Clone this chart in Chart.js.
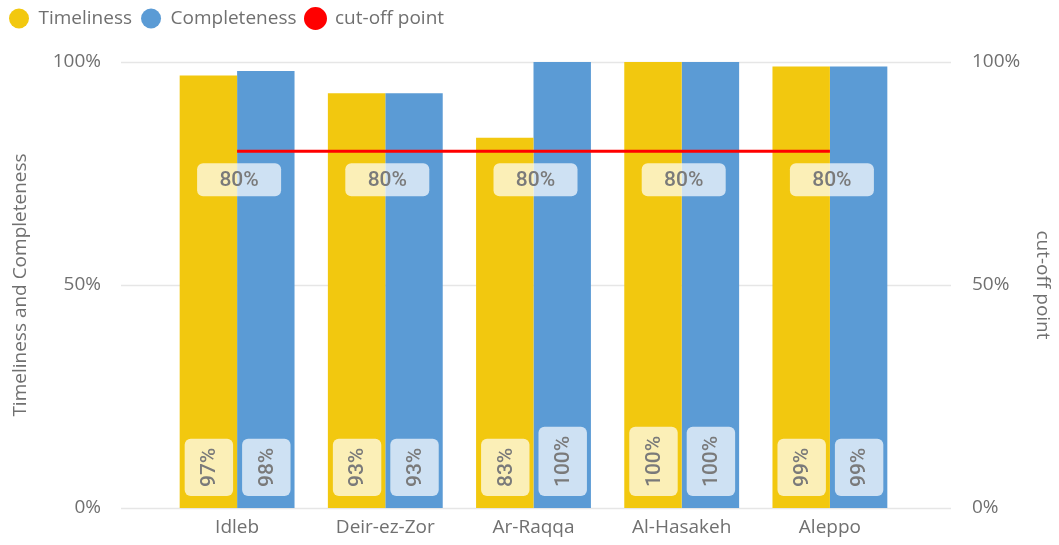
<!DOCTYPE html>
<html>
<head>
<meta charset="utf-8">
<script src="https://cdn.jsdelivr.net/npm/chart.js@4/dist/chart.umd.min.js"></script>
<style>
  html, body { margin: 0; padding: 0; background: #fff; overflow: hidden; }
  canvas { display: block; }
</style>
</head>
<body>
<canvas id="chart" width="1059" height="545"></canvas>
<script>
// ======= DATA =======
const regions = ["Idleb", "Deir-ez-Zor", "Ar-Raqqa", "Al-Hasakeh", "Aleppo"];
const timeliness = [97, 93, 83, 100, 99];
const completeness = [98, 93, 100, 100, 99];
const cutoff = [80, 80, 80, 80, 80];
const yTicks = [0, 50, 100];

const FONT = "'Open Sans', 'Noto Sans', sans-serif";
const LABEL_FONT = "Roboto, sans-serif";
const GREY = "#707070";
const LABEL_GREY = "#7a7a7a";

// horizontal gridlines, a bit wider than the plot area
const gridLines = {
  id: "gridLines",
  beforeDatasetsDraw(chart) {
    const { ctx, chartArea } = chart;
    const y = chart.scales.y;
    ctx.save();
    ctx.strokeStyle = "#e6e6e6";
    ctx.lineWidth = 1.5;
    yTicks.forEach((t) => {
      const py = Math.round(y.getPixelForValue(t)) + 0.5;
      ctx.beginPath();
      ctx.moveTo(chartArea.left - 42, py);
      ctx.lineTo(chartArea.right + 47, py);
      ctx.stroke();
    });
    ctx.restore();
  },
};

// legend box taller so the plot starts lower
const legendHeight = {
  id: "legendHeight",
  afterInit(chart) {
    const lg = chart.legend;
    const fit = lg.fit;
    lg.fit = function () {
      fit.call(this);
      this.height = 62;
    };
  },
};

function roundBox(ctx, x, y, w, h, r) {
  ctx.beginPath();
  ctx.roundRect(x, y, w, h, r);
  ctx.fill();
}

// data labels in light rounded boxes
const valueLabels = {
  id: "valueLabels",
  afterDatasetsDraw(chart) {
    const { ctx } = chart;
    ctx.save();
    ctx.font = "500 21px " + LABEL_FONT;
    chart.data.datasets.forEach((ds, i) => {
      const meta = chart.getDatasetMeta(i);
      meta.data.forEach((el, j) => {
        const txt = ds.data[j] + "%";
        const tw = ctx.measureText(txt).width;
        if (ds.type === "line") {
          const bw = 84, bh = 33;
          const bx = el.x + 2 - bw / 2, by = el.y + 12;
          ctx.fillStyle = "rgba(255,255,255,0.7)";
          roundBox(ctx, bx, by, bw, bh, 6);
          ctx.fillStyle = LABEL_GREY;
          ctx.textAlign = "center";
          ctx.textBaseline = "middle";
          ctx.fillText(txt, bx + bw / 2, by + bh / 2 + 1);
        } else {
          const bw = el.width - 9;
          const bh = tw + 18;
          const bx = el.x - el.width / 2 + 5;
          const by = el.base - 12 - bh;
          ctx.fillStyle = "rgba(255,255,255,0.7)";
          roundBox(ctx, bx, by, bw, bh, 6);
          ctx.save();
          ctx.translate(bx + bw / 2 + 1, by + bh / 2);
          ctx.rotate(-Math.PI / 2);
          ctx.fillStyle = LABEL_GREY;
          ctx.textAlign = "center";
          ctx.textBaseline = "middle";
          ctx.fillText(txt, 0, 0);
          ctx.restore();
        }
      });
    });
    ctx.restore();
  },
};

// fixed axis box sizes; drop the tick padding from the vertical overhang
const fixY = (w) => (s) => {
  s.width = w;
  s.paddingTop = 12;
  s.paddingBottom = 12;
};

new Chart(document.getElementById("chart"), {
  type: "bar",
  data: {
    labels: regions,
    datasets: [
      {
        type: "line",
        label: "cut-off point",
        data: cutoff,
        yAxisID: "y1",
        borderColor: "#ff0000",
        backgroundColor: "#ff0000",
        borderWidth: 3,
        pointRadius: 0,
        order: 0,
      },
      {
        label: "Timeliness",
        data: timeliness,
        backgroundColor: "#f2c80f",
        yAxisID: "y",
        order: 1,
      },
      {
        label: "Completeness",
        data: completeness,
        backgroundColor: "#5b9bd5",
        yAxisID: "y",
        order: 1,
      },
    ],
  },
  options: {
    responsive: false,
    animation: false,
    categoryPercentage: 0.775,
    barPercentage: 1,
    layout: { padding: 0 },
    plugins: {
      tooltip: { enabled: false },
      legend: {
        position: "top",
        align: "start",
        labels: {
          usePointStyle: true,
          pointStyle: "circle",
          pointStyleWidth: 20,
          boxHeight: 14,
          padding: 9,
          color: GREY,
          font: { family: FONT, size: 19 },
          sort: (a, b) => (a.datasetIndex || 3) - (b.datasetIndex || 3),
        },
      },
    },
    scales: {
      x: {
        offset: true,
        grid: { display: false, drawTicks: false },
        border: { display: false },
        ticks: { color: GREY, font: { family: FONT, size: 19 }, padding: 8 },
        afterFit: (s) => { s.height = 37; },
      },
      y: {
        position: "left",
        min: 0,
        max: 100,
        grid: { display: false, drawTicks: false },
        border: { display: false },
        ticks: {
          stepSize: 50,
          padding: 62,
          color: GREY,
          font: { family: FONT, size: 19 },
          callback: (v) => v + "%",
        },
        title: {
          display: true,
          text: "Timeliness and Completeness",
          color: GREY,
          font: { family: FONT, size: 19 },
          padding: { top: 9, bottom: 0 },
        },
        afterFit: fixY(163),
      },
      y1: {
        position: "right",
        min: 0,
        max: 100,
        grid: { display: false, drawTicks: false },
        border: { display: false },
        ticks: {
          stepSize: 50,
          padding: 68,
          color: GREY,
          font: { family: FONT, size: 19 },
          callback: (v) => v + "%",
        },
        title: {
          display: true,
          text: "cut-off point",
          color: GREY,
          font: { family: FONT, size: 19 },
          padding: { top: 5, bottom: 0 },
        },
        afterFit: fixY(155),
      },
    },
  },
  plugins: [gridLines, legendHeight, valueLabels],
});
</script>
</body>
</html>
